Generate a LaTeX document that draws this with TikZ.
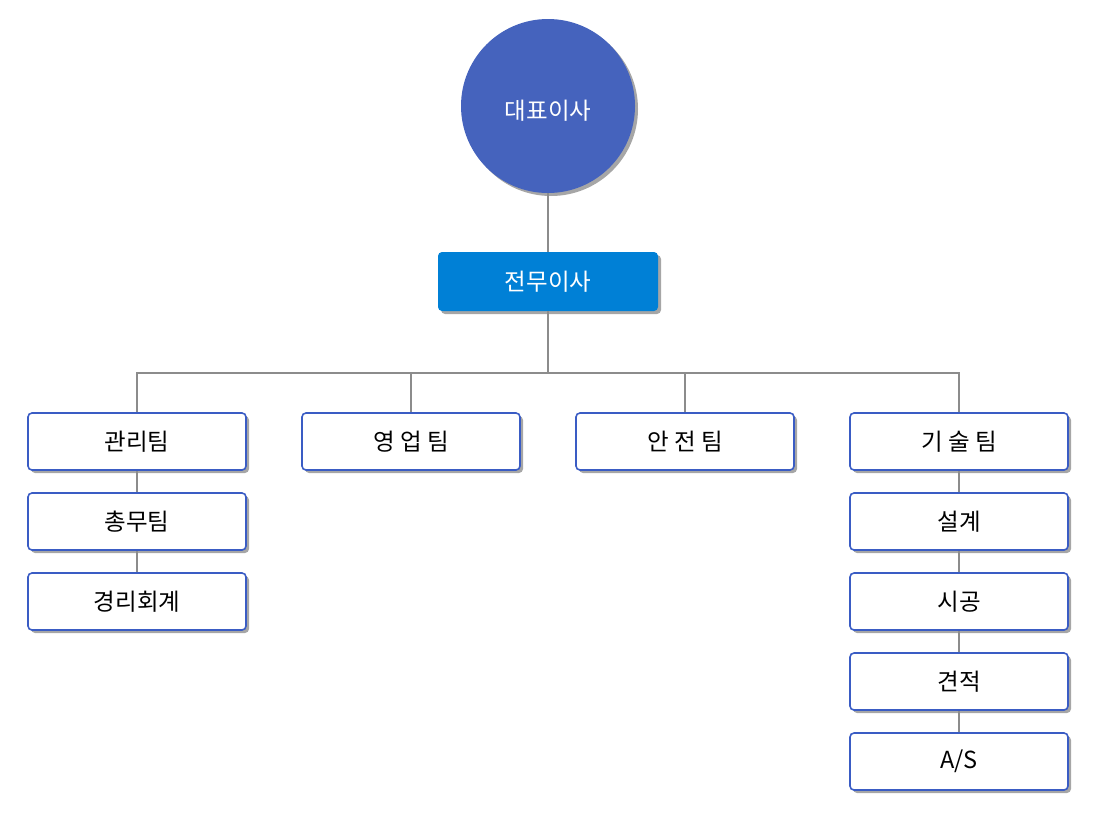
\documentclass[tikz,border=0pt]{standalone}
\usepackage{fontspec}
\setmainfont{Noto Sans CJK KR}
\usetikzlibrary{shadows}
\definecolor{ceoblue}{HTML}{4563BD}
\definecolor{vpblue}{HTML}{0080D6}
\definecolor{teamline}{HTML}{3A5CC4}
\definecolor{wire}{HTML}{8C8C8C}
\tikzset{
	labelfont/.style={font=\fontsize{23.5}{28}\selectfont},
	boxshadow/.style={drop shadow={shadow xshift=3pt,shadow yshift=-3pt,fill=black!35,opacity=1}},
	teambox/.style={draw=teamline,line width=1.6pt,fill=white,rounded corners=4pt,minimum width=218pt,minimum height=57pt,inner sep=0pt,labelfont,boxshadow},
	wireline/.style={draw=wire,line width=1.3pt}
}

\begin{document}
\begin{tikzpicture}[x=1pt,y=-1pt]
			%%%%% START %%%%%
			
			\useasboundingbox (0, 0) rectangle (1098, 828);
			
			\node[circle, fill=ceoblue, minimum size=174pt, inner sep=0pt, text=white, labelfont, text height=30pt, text depth=3pt, boxshadow] (ceo) at (548, 106) {대표이사};
			\node[fill=vpblue, rounded corners=4pt, minimum width=220pt, minimum height=59pt, inner sep=0pt, text=white, labelfont, boxshadow] (vp) at (548, 281.5) {전무이사};
			
			\coordinate (bus) at (548, 373);
			
			\node[teambox] (mgmt) at (137, 441.5) {관리팀};
			\node[teambox] (sales) at (411, 441.5) {영 업 팀};
			\node[teambox] (safety) at (685, 441.5) {안 전 팀};
			\node[teambox] (tech) at (959, 441.5) {기 술 팀};
			
			\node[teambox] (general) at (137, 521.5) {총무팀};
			\node[teambox] (acct) at (137, 601.5) {경리회계};
			
			\node[teambox] (design) at (959, 521.5) {설계};
			\node[teambox] (build) at (959, 601.5) {시공};
			\node[teambox] (estimate) at (959, 681.5) {견적};
			\node[teambox] (as) at (959, 761.5) {A/S};
			
			\draw[wireline] (ceo) -- (vp);
			\draw[wireline] (vp) -- (bus);
			\draw[wireline] (bus) -| (mgmt.north);
			\draw[wireline] (bus) -| (sales.north);
			\draw[wireline] (bus) -| (safety.north);
			\draw[wireline] (bus) -| (tech.north);
			
			\draw[wireline] (mgmt) -- (general);
			\draw[wireline] (general) -- (acct);
			
			\draw[wireline] (tech) -- (design);
			\draw[wireline] (design) -- (build);
			\draw[wireline] (build) -- (estimate);
			\draw[wireline] (estimate) -- (as);
			
			%%%%% END %%%%%
\end{tikzpicture}
\end{document}
